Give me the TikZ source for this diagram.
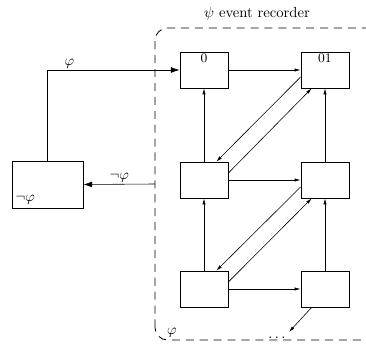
\documentclass[tikz,border=0pt]{standalone}
\usetikzlibrary{arrows.meta}
\tikzset{
  cell/.style={draw, line width=0.02cm, minimum width=1.152cm, minimum height=0.864cm, inner sep=0pt},
  flow/.style={line width=0.014cm, -{Latex[length=4pt,width=2.2pt]}},
  bigflow/.style={line width=0.014cm, -{Latex[length=6pt,width=4pt]}},
  recorder/.style={line width=0.02cm, dash pattern=on 5.5pt off 4pt, rounded corners=0.3cm}
}
\begin{document}
\begin{tikzpicture}
\useasboundingbox (0.000000,0.000000) rectangle (8.784000,8.280000);
\clip (0.000000,0.000000) rectangle (8.784000,8.280000);

% Drawing recorder frame
\draw [recorder] (3.720000,0.120000) rectangle (9.400000,7.608000);%
\node (title) at (6.168000,7.944000) {$\psi$ event recorder};%

% Marking recorder cells
\node [cell] (c00) at (4.896000,6.600000) {};%
\node [cell] (c01) at (7.800000,6.600000) {};%
\node [cell] (c10) at (4.896000,3.960000) {};%
\node [cell] (c11) at (7.800000,3.960000) {};%
\node [cell] (c20) at (4.896000,1.344000) {};%
\node [cell] (c21) at (7.800000,1.344000) {};%
\node [anchor=north, inner sep=1pt, font=\small] (t00) at (c00.north) {0};%
\node [anchor=north, inner sep=1pt, font=\small] (t01) at (c01.north) {01};%

% Marking outer cell
\node [cell, minimum width=1.704cm, minimum height=1.128cm] (env) at (1.140000,3.852000) {};%
\node [anchor=south west, inner sep=2.5pt] (tenv) at (env.south west) {$\neg\varphi$};%

% Drawing segment env c00
\draw [bigflow] (env.north) |- (c00.west) node [pos=0.583, anchor=south, inner sep=1pt] (lphi) {$\varphi$};%

% Drawing segment frame env
\coordinate (out) at (3.720000,3.864000);%
\draw [bigflow] (out) -- (env.east) node [pos=0.5, anchor=south, inner sep=1pt] (lnphi) {$\neg\varphi$};%

% Drawing horizontal segments
\draw [flow] (c00.east) -- (c01.west);%
\draw [flow] (c10.east) -- (c11.west);%
\draw [flow] (c20.east) -- (c21.west);%

% Drawing vertical segments
\draw [flow] (c10.north) -- (c00.south);%
\draw [flow] (c20.north) -- (c10.south);%
\draw [flow] (c11.north) -- (c01.south);%
\draw [flow] (c21.north) -- (c11.south);%

% Drawing diagonal segments
\draw [flow] (c01.196) -- (c10.56);%
\draw [flow] (c10.16) -- (c01.234);%
\draw [flow] (c11.196) -- (c20.56);%
\draw [flow] (c20.16) -- (c11.234);%

% Drawing continuation
\node [anchor=base] (dots) at (6.648000,0.150000) {$\ldots$};%
\coordinate (more) at (6.936000,0.312000);%
\draw [flow] (c21.234) -- (more);%

% Marking point phi
\node (fphi) at (4.128000,0.290000) {$\varphi$};%
\end{tikzpicture}
\end{document}
